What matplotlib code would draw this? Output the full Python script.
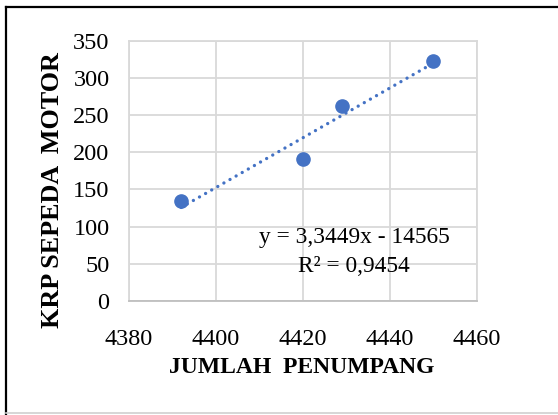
import matplotlib
matplotlib.use("Agg")
import matplotlib.pyplot as plt
from matplotlib.lines import Line2D
import numpy as np

# Data
penumpang = [4392, 4420, 4429, 4450]
krp_motor = [134, 191, 262, 323]
slope = 3.3449
intercept = -14565
r_squared = 0.9454
x_ticks = [4380, 4400, 4420, 4440, 4460]
y_ticks = [0, 50, 100, 150, 200, 250, 300, 350]

blue = "#4472C4"
grid_c = "#D9D9D9"

plt.rcParams["font.family"] = ["Liberation Serif", "DejaVu Serif"]

fig = plt.figure(figsize=(5.58, 4.15), dpi=100)
ax = fig.add_axes([0.2312, 0.2747, 0.6231, 0.6272])

ax.set_xlim(x_ticks[0], x_ticks[-1])
ax.set_ylim(y_ticks[0], y_ticks[-1])
ax.set_xticks(x_ticks)
ax.set_yticks(y_ticks)
ax.grid(True, color=grid_c, linewidth=1.3)
ax.set_axisbelow(True)
for side in ["top", "right", "left"]:
    ax.spines[side].set_color(grid_c)
    ax.spines[side].set_linewidth(1.3)
ax.spines["bottom"].set_color("#BFBFBF")
ax.spines["bottom"].set_linewidth(1.3)
ax.tick_params(length=0, labelsize=17.5, colors="black")
ax.tick_params(axis="x", pad=20)
ax.tick_params(axis="y", pad=14)

# linear trendline
tx = np.array([min(penumpang), max(penumpang)])
ty = slope * tx + intercept
ax.plot(tx, ty, color=blue, linewidth=2.4, linestyle=(0, (0.01, 2.1)),
        dash_capstyle="round", zorder=2)

ax.plot(penumpang, krp_motor, "o", color=blue, markersize=9.5, zorder=3)

ax.text(4453.8, 85, "y = 3,3449x - 14565", fontsize=16.8, ha="right", va="center")
ax.text(4444.6, 46, "R² = 0,9454", fontsize=16.8, ha="right", va="center")

ax.set_xlabel("JUMLAH  PENUMPANG", fontsize=17, fontweight="bold",
              va="center", ha="center")
ax.xaxis.set_label_coords(0.497, -0.257)
ax.set_ylabel("KRP SEPEDA  MOTOR", fontsize=18.8, fontweight="bold",
              va="center", ha="center")
ax.yaxis.set_label_coords(-0.221, 0.4245)

# outer frame
fig.add_artist(Line2D([5.5 / 558, 5.5 / 558], [0, 1 - 7.5 / 415], color="black",
                      linewidth=1.6, transform=fig.transFigure))
fig.add_artist(Line2D([5.5 / 558, 1], [1 - 7.5 / 415, 1 - 7.5 / 415], color="black",
                      linewidth=1.6, transform=fig.transFigure))
fig.add_artist(Line2D([5.5 / 558, 1], [1 - 413 / 415, 1 - 413 / 415], color="#D0D0D0",
                      linewidth=1.2, transform=fig.transFigure))

fig.savefig("out.png", dpi=100)
